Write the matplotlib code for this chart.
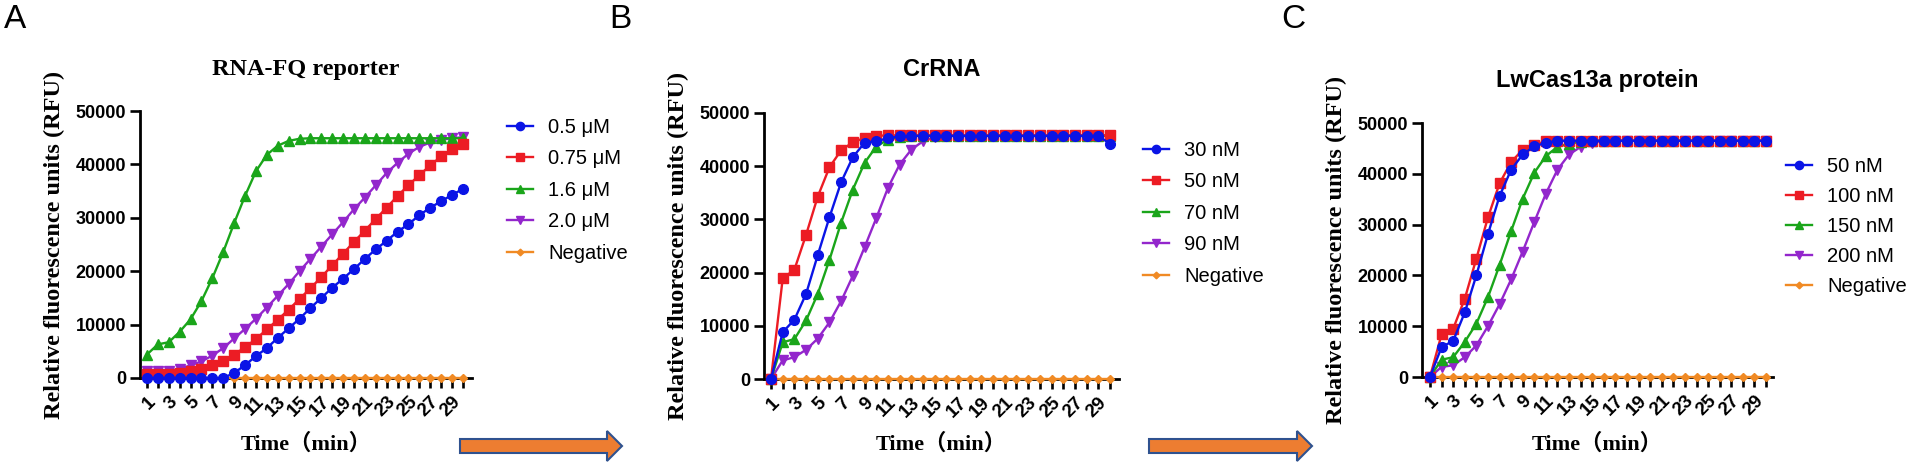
import matplotlib

matplotlib.use("Agg")
import matplotlib.pyplot as plt
from matplotlib.lines import Line2D
from matplotlib.patches import FancyArrow

# ---- data ----
minutes = list(range(1, 31))

# panel A: RNA-FQ reporter
labels_a = ["0.5 μM", "0.75 μM", "1.6 μM", "2.0 μM", "Negative"]
rfu_a_05 = [0, 0, 0, 0, 0, 0, 0, 0, 950, 2400, 4100, 5600, 7500, 9300, 11100,
            13100, 15000, 16900, 18600, 20400, 22300, 24100, 25700, 27400, 28800,
            30500, 31900, 33100, 34300, 35400]
rfu_a_075 = [700, 700, 750, 950, 1250, 1700, 2400, 3250, 4400, 5750, 7300, 9100,
             10900, 12800, 14800, 16800, 18900, 21100, 23300, 25500, 27600, 29800,
             31900, 34100, 36100, 38000, 39800, 41500, 42900, 43800]
rfu_a_16 = [4400, 6300, 6700, 8650, 11000, 14400, 18700, 23600, 29000, 34100,
            38700, 41800, 43500, 44400, 44800, 44900, 44900, 44900, 44900, 44900,
            44900, 44900, 44900, 44900, 44900, 44900, 44900, 44900, 44900, 44900]
rfu_a_20 = [1250, 1250, 1375, 1700, 2375, 3100, 4200, 5600, 7400, 9200, 11100,
            13200, 15400, 17600, 20000, 22300, 24600, 26900, 29200, 31600, 33800,
            36100, 38400, 40300, 42000, 43300, 44100, 44600, 44900, 45100]
rfu_a_neg = [0, 0, 0, 0, 0, 0, 0, 0, 0, 0, 0, 0, 0, 0, 0,
             0, 0, 0, 0, 0, 0, 0, 0, 0, 0, 0, 0, 0, 0, 0]

# panel B: CrRNA
labels_b = ["30 nM", "50 nM", "70 nM", "90 nM", "Negative"]
rfu_b_30 = [0, 8800, 11150, 16000, 23300, 30400, 37000, 41700, 44400, 44700,
            45250, 45600, 45700, 45700, 45700, 45700, 45700, 45700, 45700, 45700,
            45700, 45700, 45700, 45700, 45700, 45700, 45700, 45700, 45700, 44200]
rfu_b_50 = [0, 18900, 20550, 27100, 34300, 39800, 43000, 44500, 45300, 45700,
            45800, 45800, 45800, 45800, 45800, 45800, 45800, 45800, 45800, 45800,
            45800, 45800, 45800, 45800, 45800, 45800, 45800, 45800, 45800, 45800]
rfu_b_70 = [0, 6900, 7500, 11000, 16000, 22400, 29400, 35600, 40600, 43700,
            45000, 45400, 45700, 45700, 45700, 45700, 45700, 45700, 45700, 45700,
            45700, 45700, 45700, 45700, 45700, 45700, 45700, 45700, 45700, 45700]
rfu_b_90 = [0, 3500, 4100, 5500, 7600, 10650, 14650, 19400, 24750, 30200,
            35900, 40300, 43100, 44700, 45400, 45700, 45700, 45700, 45700, 45700,
            45700, 45700, 45700, 45700, 45700, 45700, 45700, 45700, 45700, 45700]
rfu_b_neg = [0, 0, 0, 0, 0, 0, 0, 0, 0, 0, 0, 0, 0, 0, 0,
             0, 0, 0, 0, 0, 0, 0, 0, 0, 0, 0, 0, 0, 0, 0]

# panel C: LwCas13a protein
labels_c = ["50 nM", "100 nM", "150 nM", "200 nM", "Negative"]
rfu_c_50 = [0, 5900, 7100, 12700, 20000, 28100, 35600, 40800, 43800, 45400,
            46100, 46500, 46500, 46500, 46500, 46500, 46500, 46500, 46500, 46500,
            46500, 46500, 46500, 46500, 46500, 46500, 46500, 46500, 46500, 46500]
rfu_c_100 = [0, 8400, 9500, 15400, 23300, 31400, 38100, 42300, 44750, 45700,
             46400, 46500, 46500, 46500, 46500, 46500, 46500, 46500, 46500, 46500,
             46500, 46500, 46500, 46500, 46500, 46500, 46500, 46500, 46500, 46500]
rfu_c_150 = [0, 3400, 3900, 6900, 10500, 15700, 22000, 28700, 35100, 40200,
             43500, 45300, 45900, 46300, 46500, 46500, 46500, 46500, 46500, 46500,
             46500, 46500, 46500, 46500, 46500, 46500, 46500, 46500, 46500, 46500]
rfu_c_200 = [0, 2000, 2300, 3900, 6200, 10000, 14300, 19200, 24700, 30500,
             36100, 40800, 43800, 45300, 46100, 46500, 46500, 46500, 46500, 46500,
             46500, 46500, 46500, 46500, 46500, 46500, 46500, 46500, 46500, 46500]
rfu_c_neg = [0, 0, 0, 0, 0, 0, 0, 0, 0, 0, 0, 0, 0, 0, 0,
             0, 0, 0, 0, 0, 0, 0, 0, 0, 0, 0, 0, 0, 0, 0]

yticks = [0, 10000, 20000, 30000, 40000, 50000]

# ---- style ----
W, H = 1907, 465
cores = ["#0a14e6", "#ec1c24", "#1aa51a", "#9326cc", "#f08a24"]
marcadores = ["o", "s", "^", "v", "D"]
tamanhos = [7.0, 6.5, 7.0, 7.0, 4.0]
serif_bold = dict(family=["Liberation Serif", "Noto Sans CJK SC"], weight="bold")
sans = ["Liberation Sans", "DejaVu Sans"]


def px(x, y):
    return x / W, 1 - y / H


def desenhar_painel(fig, caixa, xlim, series, rotulos, titulo, titulo_fonte,
                    titulo_y, legenda_pos, legenda_sp, letra, letra_x):
    esq, dir_, topo, base = caixa
    x0, y0 = px(esq, base)
    ax = fig.add_axes([x0, y0, (dir_ - esq) / W, (base - topo) / H])

    # draw last series first so the first one stays on top
    for i in reversed(range(len(series))):
        ax.plot(minutes, series[i], color=cores[i], marker=marcadores[i],
                markersize=tamanhos[i], linewidth=1.7, clip_on=False, zorder=3 + 5 - i)

    ax.set_xlim(*xlim)
    ax.set_ylim(0, 50000)
    ax.set_yticks(yticks)
    ax.set_yticklabels([str(v) for v in yticks], family=sans, weight="bold", fontsize=13)
    ax.set_xticks(minutes)
    ax.set_xticklabels([str(m) if m % 2 else "" for m in minutes], family=sans,
                       weight="bold", fontsize=13.5, rotation=45, ha="right",
                       rotation_mode="anchor")
    for s in ["top", "right"]:
        ax.spines[s].set_visible(False)
    for s in ["left", "bottom"]:
        ax.spines[s].set_linewidth(2.0)
    ax.tick_params(direction="out", length=7, width=1.9, pad=3)
    ax.tick_params(axis="x", pad=4)

    cx = (esq + dir_) / 2
    fig.text(*px(cx, titulo_y), titulo, ha="center", va="center", **titulo_fonte)
    fig.text(*px(cx - (dir_ - esq) / 2 - 86, (topo + base) / 2),
             "Relative fluorescence units (RFU)", rotation=90, ha="center",
             va="center", fontsize=17.5, **serif_bold)
    fig.text(*px(cx, 444), "Time（min）", ha="center", va="center",
             fontsize=16, **serif_bold)
    fig.text(*px(letra_x, 20), letra, ha="left", va="center", fontsize=24,
             family=sans)

    alcas = [Line2D([], [], color=cores[i], marker=marcadores[i],
                    markersize=tamanhos[i] * 0.85, linewidth=1.7)
             for i in range(len(series))]
    fig.legend(alcas, rotulos, loc="upper left", bbox_to_anchor=px(*legenda_pos),
               frameon=False, prop={"family": sans, "size": 14.5},
               handlelength=1.3, handletextpad=0.75, labelspacing=legenda_sp,
               borderpad=0, borderaxespad=0)
    return ax


def seta(ax_fundo, x_ini, x_fim):
    ax_fundo.add_patch(FancyArrow(x_ini, 446, x_fim - x_ini, 0, width=14,
                                  head_width=30, head_length=15,
                                  length_includes_head=True, facecolor="#ed7d31",
                                  edgecolor="#2f528f", linewidth=1.5))


fig = plt.figure(figsize=(W / 100, H / 100), dpi=100)

desenhar_painel(
    fig, (140, 472, 111, 378), (0.36, 30.83),
    [rfu_a_05, rfu_a_075, rfu_a_16, rfu_a_20, rfu_a_neg], labels_a,
    "RNA-FQ reporter", dict(family=["Liberation Serif"], weight="bold", size=17.5),
    70, (507, 118), 0.62, "A", 4)
desenhar_painel(
    fig, (764, 1119, 113, 379), (0.40, 30.77),
    [rfu_b_30, rfu_b_50, rfu_b_70, rfu_b_90, rfu_b_neg], labels_b,
    "CrRNA", dict(family=sans, weight="bold", size=17),
    70, (1143, 141), 0.62, "B", 609)
desenhar_painel(
    fig, (1422, 1773, 123, 377), (0.31, 30.6),
    [rfu_c_50, rfu_c_100, rfu_c_150, rfu_c_200, rfu_c_neg], labels_c,
    "LwCas13a protein", dict(family=sans, weight="bold", size=17),
    81, (1786, 157), 0.55, "C", 1281)

fundo = fig.add_axes([0, 0, 1, 1], zorder=-1)
fundo.set_xlim(0, W)
fundo.set_ylim(H, 0)
fundo.axis("off")
seta(fundo, 460, 622)
seta(fundo, 1149, 1312)

fig.savefig("out.png", dpi=100)
